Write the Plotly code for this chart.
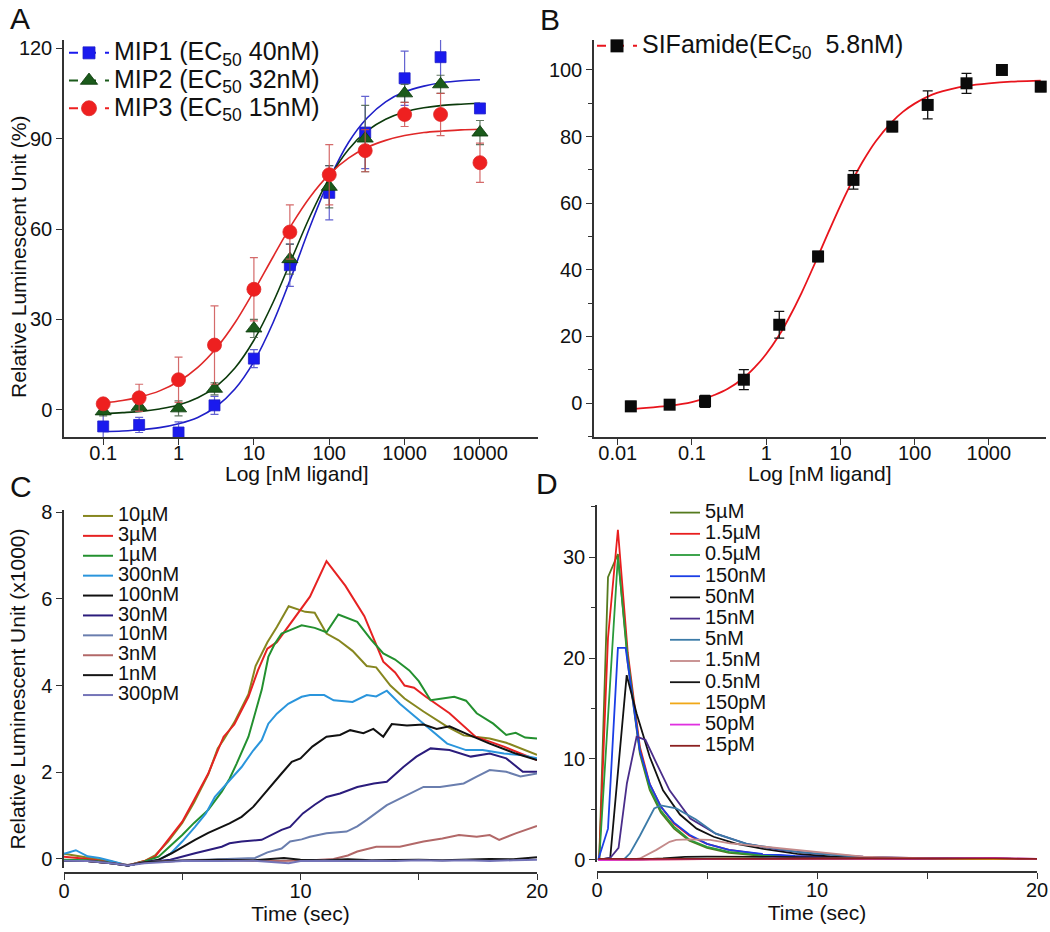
import plotly.graph_objects as go

FONT = "Liberation Sans, Arial, Helvetica, sans-serif"
W, H = 1050, 932

# ---------------- Panel A : MIP dose-response ----------------
conc_a = [0.1, 0.3, 1, 3, 10, 30, 100, 300, 1000, 3000, 10000]
mip1 = [-5.5, -5, -7.5, 1.5, 17, 48, 72, 92, 110, 117, 100]
mip1_err = [4, 2.5, 3.5, 3, 3, 7, 9, 12, 9, 9.5, 0]
mip2 = [-0.5, 1, 0.5, 7, 27, 50, 74, 90, 105, 108, 92]
mip2_err = [1.5, 1.5, 2.5, 2, 3, 5, 7, 11, 3, 3, 4]
mip3 = [2, 4, 10, 21.5, 40, 59, 78, 86, 98, 98, 82]
mip3_err = [1.5, 4.5, 7.5, 13, 10.5, 9, 10, 7, 4, 7, 6.5]
fit_x_a = [0.1, 0.18, 0.32, 0.56, 1, 1.8, 3.2, 5.6, 10, 18, 32, 56, 100, 180, 320,
           560, 1000, 1800, 3200, 5600, 10000]
fit_mip1 = [-7.2, -7.0, -6.6, -5.9, -4.6, -2.5, 1.2, 6.9, 16.0, 29.0, 44.7, 61.0, 76.4,
            88.7, 96.9, 102.2, 105.5, 107.4, 108.6, 109.2, 109.5]
fit_mip2 = [-1.2, -0.9, -0.5, 0.3, 1.6, 4.0, 7.9, 13.9, 23.1, 35.7, 50.3, 64.4, 76.9,
            86.4, 92.6, 96.4, 98.8, 100.2, 101.0, 101.4, 101.7]
fit_mip3 = [2.3, 3.1, 4.4, 6.3, 9.4, 14.1, 20.6, 28.9, 39.4, 50.8, 61.6, 70.7, 78.1,
            83.5, 87.1, 89.4, 91.0, 92.0, 92.5, 92.9, 93.1]
names_a = ["MIP1 (EC<sub>50</sub> 40nM)", "MIP2 (EC<sub>50</sub> 32nM)", "MIP3 (EC<sub>50</sub> 15nM)"]
ticks_a = [0.1, 1, 10, 100, 1000, 10000]
ticklabels_a = ["0.1", "1", "10", "100", "1000", "10000"]

# ---------------- Panel B : SIFamide dose-response ----------------
conc_b = [0.015, 0.05, 0.15, 0.5, 1.5, 5, 15, 50, 150, 500, 1500, 5000]
sif = [-1, -0.5, 0.5, 7, 23.5, 44, 67, 83, 89.5, 96, 100, 95]
sif_err = [1.5, 1, 1.8, 3, 4, 1.5, 2.8, 1.5, 4.2, 3, 0, 1.5]
fit_x_b = [0.013, 0.02, 0.03, 0.05, 0.1, 0.15, 0.2, 0.3, 0.5, 0.7, 1, 1.5, 2, 3, 5, 7,
           10, 15, 20, 30, 50, 70, 100, 150, 200, 300, 500, 1000, 2000, 5000]
fit_sif = [-1.8, -1.6, -1.3, -0.8, 0.3, 1.4, 2.4, 4.2, 7.6, 10.7, 14.7, 20.4, 25.3, 33.1,
           44.1, 51.6, 59.3, 67.4, 72.5, 78.6, 84.5, 87.5, 89.9, 92.0, 93.1, 94.2, 95.2,
           96.0, 96.5, 96.8]
name_b = "SIFamide(EC<sub>50</sub>  5.8nM)"
ticks_b = [0.01, 0.1, 1, 10, 100, 1000]
ticklabels_b = ["0.01", "0.1", "1", "10", "100", "1000"]

# ---------------- Panel C : MIP time courses ----------------
c_labels = ["10µM", "3µM", "1µM", "300nM", "100nM", "30nM", "10nM", "3nM", "1nM", "300pM"]
c_colors = ["#86861f", "#e62222", "#23902f", "#2a95dc", "#111111", "#2b1c7c",
            "#6a7eae", "#b26868", "#151515", "#7474b8"]
c_t = [
    [0, 1, 2, 2.7, 3.4, 3.85, 4.4, 5.0, 5.5, 6.1, 6.5, 6.75, 7.2, 7.8, 8.1, 8.6, 9.0, 9.5,
     10.2, 10.6, 11.1, 11.6, 12.2, 12.8, 13.2, 13.8, 14.4, 15.2, 16.2, 16.9, 17.5, 18.0,
     18.7, 19.3, 20],
    [0, 1, 2, 2.7, 3.4, 3.85, 4.4, 5.0, 5.5, 6.1, 6.5, 6.75, 7.2, 7.8, 8.2, 8.6, 9.0, 9.6,
     10.4, 11.1, 11.9, 12.7, 13.5, 14.0, 14.4, 14.8, 15.3, 16.3, 17.4, 18.6, 20],
    [0, 1, 2, 2.7, 3.4, 4.0, 4.4, 5.0, 5.5, 6.1, 6.67, 7.0, 7.3, 7.8, 8.36, 8.64, 8.9, 9.2,
     9.56, 10.05, 10.6, 11.1, 11.6, 12.4, 13.0, 13.5, 14.0, 14.6, 15.0, 15.5, 16.0, 16.5,
     17.0, 17.45, 18.15, 18.7, 19.1, 19.5, 20],
    [0, 0.5, 1.0, 1.5, 2.0, 2.7, 3.4, 4.0, 4.5, 5.0, 5.54, 6.0, 6.38, 7.0, 7.51, 8.0, 8.36,
     8.64, 9.0, 9.48, 10.05, 10.4, 11.0, 11.4, 12.2, 12.8, 13.2, 13.65, 14.2, 14.7, 15.2,
     15.7, 16.2, 17.0, 17.7, 18.6, 19.3, 20],
    [0, 1, 2, 2.7, 3.4, 4.0, 4.55, 5.0, 5.54, 6.1, 6.67, 7.0, 7.51, 8.0, 8.36, 8.8, 9.2,
     9.63, 10.0, 10.5, 11.1, 11.67, 12.1, 12.66, 13.08, 13.5, 13.86, 14.5, 15.2, 15.76,
     16.3, 17.0, 18.0, 19.1, 20],
    [0, 1, 2, 2.7, 3.4, 4.5, 5.54, 6.1, 6.67, 7.0, 7.51, 8.36, 9.2, 9.56, 10.1, 10.6, 11.1,
     11.67, 12.4, 13.1, 13.65, 14.35, 14.9, 15.5, 16.3, 17.2, 18.0, 18.7, 19.4, 20],
    [0, 1, 2, 2.7, 3.4, 5.0, 6.0, 6.9, 8.08, 8.6, 9.2, 9.56, 10.05, 10.4, 11.1, 11.95, 12.4,
     12.8, 13.65, 14.35, 15.2, 15.9, 16.9, 17.45, 18.0, 18.7, 19.3, 20],
    [0, 1, 2, 2.7, 3.4, 5, 7, 9, 10.5, 11.4, 12.0, 12.4, 13.2, 14.2, 15.2, 16.0, 16.7,
     17.45, 18.0, 18.4, 19.1, 20],
    [0, 1, 2, 2.7, 3.4, 5, 6.5, 8, 9.3, 10, 11, 12, 13, 14, 15, 16, 17, 18, 19, 20],
    [0, 1, 2, 2.7, 3.4, 5, 6.5, 8, 9.5, 10, 11, 12, 13, 14, 15, 16, 17, 18, 19, 20],
]
c_v = [
    [0.12, 0.03, -0.06, -0.15, -0.05, 0.08, 0.4, 0.83, 1.3, 1.95, 2.55, 2.75, 3.15, 3.8,
     4.45, 5.0, 5.35, 5.83, 5.7, 5.68, 5.2, 5.05, 4.8, 4.45, 4.42, 4.0, 3.7, 3.4, 3.05,
     2.85, 2.82, 2.78, 2.68, 2.55, 2.4],
    [0.05, 0.0, -0.08, -0.15, -0.05, 0.05, 0.44, 0.86, 1.36, 1.97, 2.5, 2.82, 3.1, 3.74,
     4.35, 4.85, 5.0, 5.45, 6.05, 6.87, 6.3, 5.6, 4.55, 4.3, 4.0, 3.95, 3.74, 3.36, 2.82,
     2.59, 2.28],
    [-0.02, -0.03, -0.08, -0.15, -0.06, 0.05, 0.25, 0.55, 0.83, 1.13, 1.55, 1.85, 2.2, 2.82,
     3.9, 4.66, 4.95, 5.2, 5.28, 5.39, 5.33, 5.23, 5.64, 5.47, 5.05, 4.74, 4.6, 4.35, 4.1,
     3.66, 3.7, 3.74, 3.65, 3.36, 3.12, 2.86, 2.91, 2.8, 2.78],
    [0.12, 0.2, 0.06, 0.02, -0.05, -0.15, -0.08, -0.02, 0.12, 0.4, 0.74, 1.05, 1.43, 1.8,
     2.12, 2.5, 2.74, 3.12, 3.35, 3.58, 3.74, 3.78, 3.78, 3.66, 3.62, 3.78, 3.75, 3.88,
     3.58, 3.35, 3.12, 2.9, 2.66, 2.51, 2.51, 2.43, 2.4, 2.32],
    [-0.05, -0.05, -0.1, -0.15, -0.08, -0.02, 0.13, 0.28, 0.44, 0.6, 0.74, 0.82, 0.97, 1.2,
     1.43, 1.7, 1.97, 2.24, 2.32, 2.59, 2.82, 2.86, 2.97, 2.9, 3.0, 2.82, 3.11, 3.08, 3.1,
     3.0, 3.06, 2.89, 2.66, 2.43, 2.28],
    [-0.05, -0.05, -0.1, -0.15, -0.08, -0.02, 0.13, 0.2, 0.28, 0.36, 0.4, 0.44, 0.67, 0.74,
     1.05, 1.25, 1.43, 1.51, 1.66, 1.74, 1.78, 2.12, 2.36, 2.55, 2.51, 2.36, 2.43, 2.32,
     2.01, 2.01],
    [-0.05, -0.05, -0.1, -0.14, -0.08, -0.03, -0.02, 0.0, 0.02, 0.15, 0.24, 0.4, 0.45, 0.51,
     0.59, 0.63, 0.75, 0.9, 1.24, 1.43, 1.66, 1.66, 1.74, 1.9, 2.05, 2.01, 1.9, 1.97],
    [-0.05, -0.05, -0.1, -0.14, -0.08, -0.04, -0.03, -0.05, -0.03, 0.0, 0.08, 0.17, 0.28,
     0.28, 0.4, 0.47, 0.55, 0.51, 0.55, 0.44, 0.59, 0.76],
    [-0.05, -0.05, -0.1, -0.15, -0.08, -0.04, -0.02, -0.03, 0.02, -0.02, -0.03, -0.01,
     -0.03, -0.02, -0.02, -0.03, -0.01, 0.0, -0.01, 0.04],
    [-0.04, -0.05, -0.1, -0.15, -0.1, -0.05, -0.05, -0.04, -0.1, -0.05, -0.04, -0.05,
     -0.04, -0.05, -0.03, -0.04, -0.03, -0.05, -0.03, -0.02],
]

# ---------------- Panel D : SIFamide time courses ----------------
d_labels = ["5µM", "1.5µM", "0.5µM", "150nM", "50nM", "15nM", "5nM", "1.5nM", "0.5nM",
            "150pM", "50pM", "15pM"]
d_colors = ["#557a1e", "#e81e1e", "#2a9a3a", "#1b3ee6", "#111111", "#4a2d8a", "#3c7ba8",
            "#c48a8a", "#151515", "#f0a818", "#e030e0", "#8b2020"]
d_t = [
    [0.1, 0.5, 0.95, 1.4, 1.95, 2.4, 2.9, 3.5, 4.2, 5.0, 6.0, 7.5, 9, 11, 13, 16, 20],
    [0.1, 0.5, 0.95, 1.4, 1.95, 2.4, 2.9, 3.5, 4.2, 5.0, 6.0, 7.5, 9, 11, 13, 16, 20],
    [0.1, 0.5, 0.95, 1.4, 1.95, 2.4, 2.9, 3.5, 4.2, 5.0, 6.0, 7.5, 9, 11, 13, 16, 20],
    [0.05, 0.5, 0.95, 1.3, 1.95, 2.4, 2.9, 3.5, 4.2, 5.0, 6.0, 7.5, 9, 12, 16, 20],
    [0.05, 0.6, 1.35, 1.8, 2.4, 3.0, 3.77, 4.53, 5.3, 6.35, 7.56, 9.1, 10.6, 12.1, 15, 20],
    [0.05, 0.6, 0.98, 1.36, 1.8, 2.2, 2.7, 3.3, 4.24, 5.4, 6.8, 8.3, 9.8, 12.1, 15, 20],
    [0.05, 1.2, 1.5, 1.95, 2.6, 2.9, 3.6, 4.5, 5.4, 6.8, 9.1, 12.1, 15, 20],
    [0.05, 1.5, 1.95, 2.7, 3.3, 3.6, 4.2, 5.15, 6.05, 7.6, 9.1, 10.6, 12.1, 13.6, 16, 20],
    [0.05, 2, 3, 4, 5, 6, 7, 8, 10, 12, 14, 16, 18, 20],
    [0.05, 2, 4, 6, 8, 10, 12, 14, 16, 18, 20],
    [0.05, 2, 4, 6, 8, 10, 12, 14, 16, 18, 20],
    [0.05, 2, 4, 6, 8, 10, 12, 14, 16, 18, 20],
]
d_v = [
    [0, 28.0, 30.3, 19.5, 10.5, 6.9, 4.7, 3.1, 1.9, 1.2, 0.7, 0.4, 0.3, 0.2, 0.15, 0.12, 0.1],
    [0, 22.0, 32.7, 20.5, 11.2, 7.5, 5.3, 3.6, 2.4, 1.6, 1.0, 0.55, 0.35, 0.22, 0.15, 0.12, 0.1],
    [0, 14.0, 30.0, 20.0, 10.8, 7.1, 4.9, 3.3, 2.0, 1.3, 0.8, 0.45, 0.3, 0.2, 0.15, 0.12, 0.1],
    [0, 3.1, 21.0, 21.0, 10.8, 7.5, 5.3, 3.7, 2.5, 1.6, 1.0, 0.6, 0.4, 0.2, 0.12, 0.1],
    [0, 0.2, 18.3, 14.5, 10.2, 6.9, 4.5, 3.1, 2.3, 1.6, 1.1, 0.6, 0.35, 0.2, 0.12, 0.1],
    [0, 0.2, 1.2, 7.6, 12.2, 11.9, 9.6, 6.9, 4.1, 2.6, 1.6, 1.0, 0.66, 0.33, 0.15, 0.1],
    [0, 0, 0.66, 2.4, 5.1, 5.4, 5.1, 4.0, 2.6, 1.6, 0.8, 0.26, 0.15, 0.1],
    [0, 0, 0.15, 1.0, 1.8, 2.0, 2.05, 2.0, 1.65, 1.3, 1.0, 0.66, 0.33, 0.23, 0.15, 0.1],
    [0, 0.05, 0.15, 0.3, 0.33, 0.33, 0.3, 0.3, 0.25, 0.18, 0.15, 0.12, 0.1, 0.1],
    [0, 0.05, 0.1, 0.12, 0.1, 0.12, 0.1, 0.15, 0.1, 0.12, 0.08],
    [0, 0.05, 0.08, 0.1, 0.12, 0.1, 0.1, 0.12, 0.15, 0.2, 0.1],
    [0.1, 0.12, 0.12, 0.1, 0.1, 0.12, 0.12, 0.1, 0.12, 0.15, 0.1],
]


def px_x(p):
    """page pixel (x) -> paper fraction"""
    return p / W


def px_y(p):
    """page pixel (y) -> paper fraction"""
    return 1 - p / H


fig = go.Figure()

# ---- Panel A traces ----
a_series = [
    (fit_mip1, mip1, mip1_err, "#1f1fc8", "#1a1aee", "square", 11, "rgba(70,70,200,0.85)"),
    (fit_mip2, mip2, mip2_err, "#0b3a0b", "#1b5a1b", "triangle-up", 14, "rgba(70,95,70,0.85)"),
    (fit_mip3, mip3, mip3_err, "#e02828", "#ee2020", "circle", 14, "rgba(205,80,80,0.85)"),
]
for fit, pts, err, lc, mc, sym, ms, ec in a_series:
    fig.add_trace(go.Scatter(x=fit_x_a, y=fit, mode="lines", line=dict(color=lc, width=1.6, shape="spline"),
                             xaxis="x", yaxis="y", showlegend=False, hoverinfo="skip"))
for (fit, pts, err, lc, mc, sym, ms, ec), nm in zip(a_series, names_a):
    fig.add_trace(go.Scatter(x=conc_a, y=pts, mode="markers",
                             marker=dict(symbol=sym, size=ms, color=mc, line=dict(color=lc, width=0.8)),
                             error_y=dict(type="data", array=err, color=ec, thickness=1.2, width=4),
                             xaxis="x", yaxis="y", showlegend=False, cliponaxis=False))
    fig.add_trace(go.Scatter(x=[None], y=[None], mode="lines+markers",
                             name='<span style="font-size:25px">' + nm + "</span>",
                             line=dict(color=mc, width=2, dash="dash"),
                             marker=dict(symbol=sym, size=ms + 1, color=mc, line=dict(color=lc, width=0.8)),
                             xaxis="x", yaxis="y", legend="legend"))

# ---- Panel B traces ----
fig.add_trace(go.Scatter(x=fit_x_b, y=fit_sif, mode="lines", line=dict(color="#e8141c", width=1.8, shape="spline"),
                         xaxis="x2", yaxis="y2", showlegend=False, hoverinfo="skip"))
fig.add_trace(go.Scatter(x=conc_b, y=sif, mode="markers",
                         marker=dict(symbol="square", size=12, color="#0a0a0a"),
                         error_y=dict(type="data", array=sif_err, color="#111111", thickness=1.3, width=5),
                         xaxis="x2", yaxis="y2", showlegend=False, cliponaxis=False))
fig.add_trace(go.Scatter(x=[None], y=[None], mode="lines+markers",
                         name='<span style="font-size:25px">' + name_b + "</span>",
                         line=dict(color="#e8141c", width=2, dash="dash"),
                         marker=dict(symbol="square", size=13, color="#0a0a0a"),
                         xaxis="x2", yaxis="y2", legend="legend2"))

# ---- Panel C traces ----
for lab, col, tt, vv in zip(c_labels, c_colors, c_t, c_v):
    fig.add_trace(go.Scatter(x=tt, y=vv, mode="lines", line=dict(color=col, width=2),
                             name='<span style="font-size:20px">' + lab + "</span>",
                             xaxis="x3", yaxis="y3", legend="legend3"))

# ---- Panel D traces ----
for lab, col, tt, vv in zip(d_labels, d_colors, d_t, d_v):
    fig.add_trace(go.Scatter(x=tt, y=vv, mode="lines", line=dict(color=col, width=1.8),
                             name='<span style="font-size:20px">' + lab + "</span>",
                             xaxis="x4", yaxis="y4", legend="legend4"))

axis_common = dict(showline=True, linecolor="#333333", linewidth=1.5, ticks="outside",
                   tickcolor="#333333", tickwidth=1.3, ticklen=6, showgrid=False, zeroline=False,
                   tickfont=dict(family=FONT, size=20, color="#111111"))
xtitle_font = dict(family=FONT, size=21, color="#111111")
ytitle_font = dict(family=FONT, size=21, color="#111111")
legend_common = dict(xanchor="left", yanchor="top", bgcolor="rgba(0,0,0,0)", tracegroupgap=0)

letters = [("A", 8, 18), ("B", 538, 20), ("C", 8, 487), ("D", 534, 484)]
annotations = [
    dict(text=t, x=px_x(xp), y=px_y(yp), xref="paper", yref="paper", xanchor="left",
         yanchor="middle", showarrow=False, font=dict(family=FONT, size=30, color="#111111"))
    for t, xp, yp in letters
]
# axis titles of the dose-response panels (placed tight against the tick labels)
annotations += [
    dict(text="Relative Luminescent Unit (%)", x=px_x(18), y=px_y(257), xref="paper",
         yref="paper", xanchor="center", yanchor="middle", textangle=-90, showarrow=False,
         font=ytitle_font),
    dict(text="Log [nM ligand]", x=px_x(297), y=px_y(473), xref="paper", yref="paper",
         xanchor="center", yanchor="middle", showarrow=False, font=xtitle_font),
    dict(text="Log [nM ligand]", x=px_x(820), y=px_y(473), xref="paper", yref="paper",
         xanchor="center", yanchor="middle", showarrow=False, font=xtitle_font),
]

fig.update_layout(
    width=W, height=H,
    paper_bgcolor="white", plot_bgcolor="white",
    margin=dict(l=0, r=0, t=0, b=0, autoexpand=False),
    font=dict(family=FONT, color="#111111"),
    xaxis=dict(axis_common, domain=[px_x(64), px_x(538)], anchor="y", type="log",
               range=[-1.52, 4.77], tickmode="array", tickvals=ticks_a, ticktext=ticklabels_a,
               ticklabelstandoff=-9),
    yaxis=dict(axis_common, domain=[px_y(437), px_y(40)], anchor="x", range=[-9, 122.7],
               tickmode="array", tickvals=[0, 30, 60, 90, 120]),
    xaxis2=dict(axis_common, domain=[px_x(594), px_x(1046)], anchor="y2", type="log",
                range=[-2.32, 3.77], tickmode="array", tickvals=ticks_b, ticktext=ticklabels_b,
                ticklabelstandoff=-9),
    yaxis2=dict(axis_common, domain=[px_y(437), px_y(40)], anchor="x2", range=[-10.2, 109],
                tickmode="linear", tick0=0, dtick=20,
                minor=dict(dtick=10, tick0=0, ticks="outside", ticklen=4, tickcolor="#333333")),
    xaxis3=dict(axis_common, domain=[px_x(64), px_x(537)], anchor="free", position=px_y(873),
                range=[0, 20], tickmode="linear", tick0=0, dtick=10, ticklabelstandoff=-6,
                minor=dict(dtick=5, tick0=0, ticks="outside", ticklen=6, tickcolor="#333333"),
                title=dict(text="Time (sec)", font=xtitle_font, standoff=2)),
    yaxis3=dict(axis_common, domain=[px_y(868), px_y(510)], anchor="x3", range=[-0.21, 8.05],
                tickmode="linear", tick0=0, dtick=2,
                title=dict(text="Relative Luminescent Unit (x1000)", font=ytitle_font, standoff=10)),
    xaxis4=dict(axis_common, domain=[px_x(597), px_x(1037)], anchor="free", position=px_y(872),
                range=[0, 20], tickmode="linear", tick0=0, dtick=10, ticklabelstandoff=-6,
                minor=dict(dtick=5, tick0=0, ticks="outside", ticklen=6, tickcolor="#333333"),
                title=dict(text="Time (sec)", font=xtitle_font, standoff=2)),
    yaxis4=dict(axis_common, domain=[px_y(862), px_y(505)], anchor="x4", range=[-0.2, 35.15],
                tickmode="linear", tick0=0, dtick=10,
                minor=dict(dtick=5, tick0=0, ticks="outside", ticklen=4, tickcolor="#333333")),
    legend=dict(legend_common, x=px_x(64), y=px_y(34), itemwidth=40,
                font=dict(family=FONT, size=19, color="#111111")),
    legend2=dict(legend_common, x=px_x(592), y=px_y(27), itemwidth=40,
                 font=dict(family=FONT, size=19, color="#111111")),
    legend3=dict(legend_common, x=px_x(78), y=px_y(501),
                 font=dict(family=FONT, size=13, color="#111111")),
    legend4=dict(legend_common, x=px_x(665), y=px_y(497),
                 font=dict(family=FONT, size=14, color="#111111")),
    annotations=annotations,
)

# the page's default body margin would shift the 1050x932 figure; remove it
fig.write_html("out.html", config={"displayModeBar": False},
               post_script="document.body.style.margin='0px';")
